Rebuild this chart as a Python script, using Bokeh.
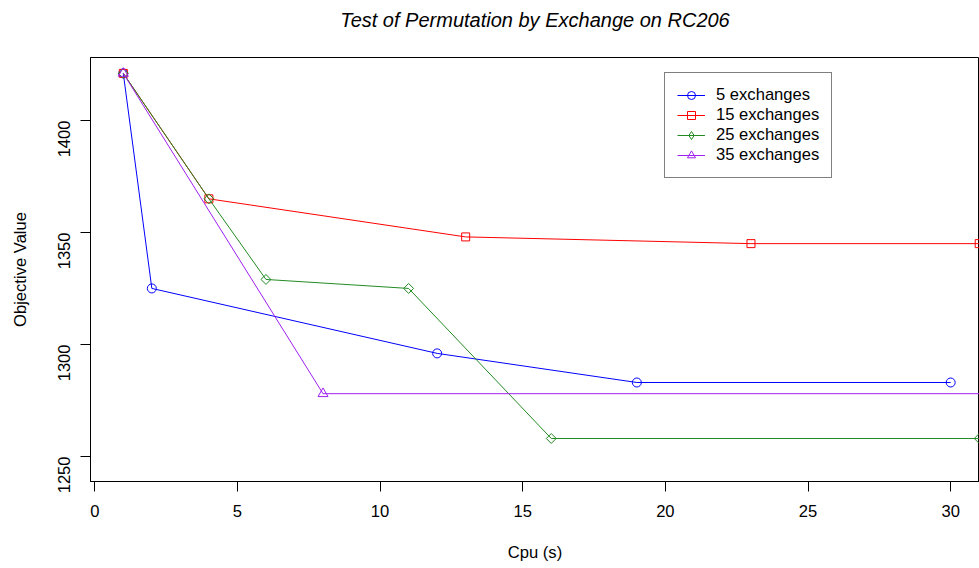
import math
from bokeh.plotting import figure
from bokeh.models import FixedTicker, Legend, LegendItem, Range1d
from bokeh.embed import file_html
from bokeh.resources import INLINE

# ---- data ----
series_names = ["5 exchanges", "15 exchanges", "25 exchanges", "35 exchanges"]
x5 = [1, 2, 12, 19, 30]
y5 = [1421, 1325, 1296, 1283, 1283]
x15 = [1, 4, 13, 23, 31]
y15 = [1421, 1365, 1348, 1345, 1345]
x25 = [1, 4, 6, 11, 16, 31]
y25 = [1421, 1365, 1329, 1325, 1258, 1258]
x35 = [1, 8, 35]
y35 = [1421, 1278, 1278]
x_ticks = [0, 5, 10, 15, 20, 25, 30]
y_ticks = [1250, 1300, 1350, 1400]
title_text = "Test of Permutation by Exchange on RC206"

FONT = "Liberation Sans"
FS = "16.6px"

X0, X1 = -0.15, 31.01
Y0, Y1 = 1238.8, 1428.1

p = figure(width=979, height=568, output_backend="svg", toolbar_location=None,
           x_range=Range1d(X0, X1), y_range=Range1d(Y0, Y1),
           min_border_left=90, min_border_right=0, min_border_top=57, min_border_bottom=87,
           title=title_text + "\n ")

p.background_fill_color = "white"
p.border_fill_color = "white"
p.outline_line_color = "black"
p.outline_line_width = 1
p.grid.visible = False

p.title.text_font = FONT
p.title.text_font_size = "20px"
p.title.text_font_style = "italic"
p.title.text_color = "black"
p.title.align = "center"
p.title.vertical_align = "top"
p.title.offset = 2.5
p.title.standoff = 6

for ax in (p.xaxis[0], p.yaxis[0]):
    ax.axis_line_color = "black"
    ax.major_tick_in = 0
    ax.major_tick_out = 10
    ax.major_tick_line_color = "black"
    ax.minor_tick_line_color = None
    ax.major_label_text_font = FONT
    ax.major_label_text_font_size = FS
    ax.major_label_text_color = "black"
    ax.axis_label_text_font = FONT
    ax.axis_label_text_font_size = FS
    ax.axis_label_text_font_style = "normal"
    ax.axis_label_text_color = "black"

p.xaxis.ticker = FixedTicker(ticks=x_ticks)
p.yaxis.ticker = FixedTicker(ticks=y_ticks)
p.xaxis.axis_label = "Cpu (s)"
p.yaxis.axis_label = "Objective Value"
p.xaxis.major_label_standoff = 13
p.xaxis.axis_label_standoff = 23
p.yaxis.major_label_standoff = 16
p.yaxis.major_label_orientation = math.pi / 2
p.yaxis.axis_label_standoff = 20

colors = ["#0000FF", "#FF0000", "#228B22", "#A020F0"]
data = [(x5, y5), (x15, y15), (x25, y25), (x35, y35)]
marker_specs = [
    dict(marker="circle", size=9, angle=0, legend_marker="circle", legend_size=9),
    dict(marker="square", size=8, angle=0, legend_marker="square", legend_size=8),
    dict(marker="square", size=7, angle=math.pi / 4, legend_marker="diamond", legend_size=11),
    dict(marker="triangle", size=10, angle=0, legend_marker="triangle", legend_size=10),
]

items = []
for name, (xs, ys), c, ms in zip(series_names, data, colors, marker_specs):
    ln = p.line(xs, ys, line_color=c, line_width=1)
    sc = p.scatter(xs, ys, marker=ms["marker"], size=ms["size"], angle=ms["angle"],
                   line_color=c, line_width=1, fill_color=None)
    if ms["angle"] != 0:
        # legend swatch: an unrotated diamond that stays off the plot
        lg = p.scatter([float("nan")], [float("nan")], marker=ms["legend_marker"],
                       size=ms["legend_size"], line_color=c, line_width=1, fill_color=None)
        items.append(LegendItem(label=name, renderers=[ln, lg]))
    else:
        items.append(LegendItem(label=name, renderers=[ln, sc]))

legend = Legend(items=items, location=(574, 303))
legend.label_text_font = FONT
legend.label_text_font_size = FS
legend.label_text_color = "black"
legend.border_line_color = "black"
legend.border_line_width = 1
legend.background_fill_color = "white"
legend.background_fill_alpha = 1
legend.padding = 12
legend.spacing = 0
legend.glyph_width = 28
legend.glyph_height = 20
legend.label_height = 20
legend.label_standoff = 11
legend.margin = 0
p.add_layout(legend, "center")

open("out.html", "w").write(file_html(p, INLINE))
